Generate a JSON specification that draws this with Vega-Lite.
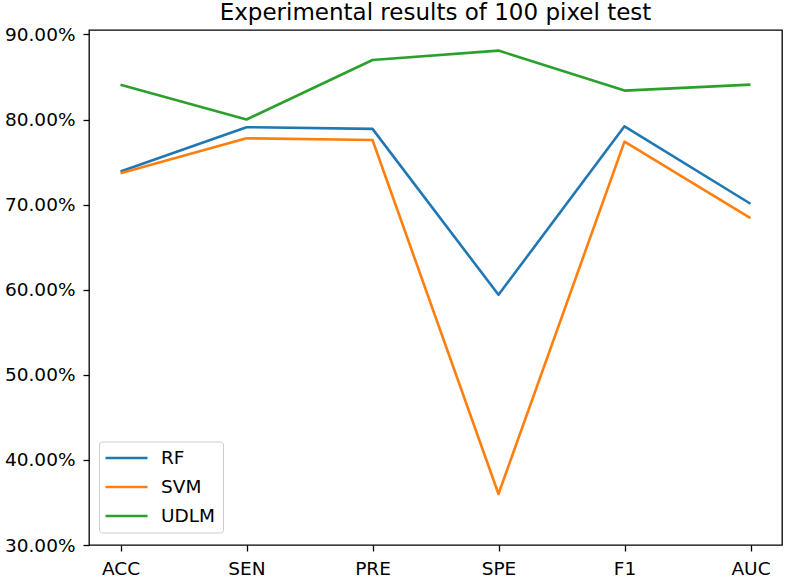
{
  "$schema": "https://vega.github.io/schema/vega-lite/v6.json",
  "width": 693,
  "height": 515,
  "autosize": {"type": "none"},
  "padding": {"left": 89, "top": 30, "right": 4, "bottom": 33},
  "title": {"text": "Experimental results of 100 pixel test", "fontSize": 23, "fontWeight": "normal", "font": "DejaVu Sans", "color": "#000000", "offset": 0, "anchor": "middle"},
  "config": {
    "font": "DejaVu Sans",
    "view": {"stroke": "#000000", "strokeWidth": 1.3},
    "axis": {"grid": false, "domain": false, "tickColor": "#000000", "tickWidth": 1.3, "tickSize": 6, "labelColor": "#000000", "labelFontSize": 18.5, "labelFont": "DejaVu Sans", "title": null}
  },
  "data": {"values": [
    {"metric": "ACC", "model": "RF", "value": 73.9},
    {"metric": "SEN", "model": "RF", "value": 79.1},
    {"metric": "PRE", "model": "RF", "value": 78.9},
    {"metric": "SPE", "model": "RF", "value": 59.4},
    {"metric": "F1", "model": "RF", "value": 79.2},
    {"metric": "AUC", "model": "RF", "value": 70.1},
    {"metric": "ACC", "model": "SVM", "value": 73.7},
    {"metric": "SEN", "model": "SVM", "value": 77.8},
    {"metric": "PRE", "model": "SVM", "value": 77.6},
    {"metric": "SPE", "model": "SVM", "value": 36.0},
    {"metric": "F1", "model": "SVM", "value": 77.4},
    {"metric": "AUC", "model": "SVM", "value": 68.4},
    {"metric": "ACC", "model": "UDLM", "value": 84.1},
    {"metric": "SEN", "model": "UDLM", "value": 80.0},
    {"metric": "PRE", "model": "UDLM", "value": 87.0},
    {"metric": "SPE", "model": "UDLM", "value": 88.1},
    {"metric": "F1", "model": "UDLM", "value": 83.4},
    {"metric": "AUC", "model": "UDLM", "value": 84.1}
  ]},
  "mark": {"type": "line", "strokeWidth": 2.6, "strokeJoin": "round"},
  "encoding": {
    "x": {"field": "metric", "type": "ordinal", "sort": ["ACC", "SEN", "PRE", "SPE", "F1", "AUC"],
      "scale": {"type": "point", "padding": 0.25},
      "axis": {"labelAngle": 0, "labelPadding": 8}},
    "y": {"field": "value", "type": "quantitative",
      "scale": {"domain": [30, 90.52], "nice": false, "zero": false},
      "axis": {"values": [30, 40, 50, 60, 70, 80, 90], "labelExpr": "format(datum.value, '.2f') + '%'", "labelPadding": 8}},
    "color": {"field": "model", "type": "nominal",
      "scale": {"domain": ["RF", "SVM", "UDLM"], "range": ["#1f77b4", "#ff7f0e", "#2ca02c"]},
      "legend": {"title": null, "orient": "none", "legendX": 10, "legendY": 411.5,
        "symbolType": "M-1.25,0H4", "symbolSize": 256, "symbolStrokeWidth": 2.6, "symbolFillColor": "transparent",
        "labelFontSize": 18.5, "labelColor": "#000000", "labelOffset": 36, "rowPadding": 10,
        "padding": 7, "strokeColor": "#cccccc", "fillColor": "#ffffff", "cornerRadius": 3}}
  }
}
